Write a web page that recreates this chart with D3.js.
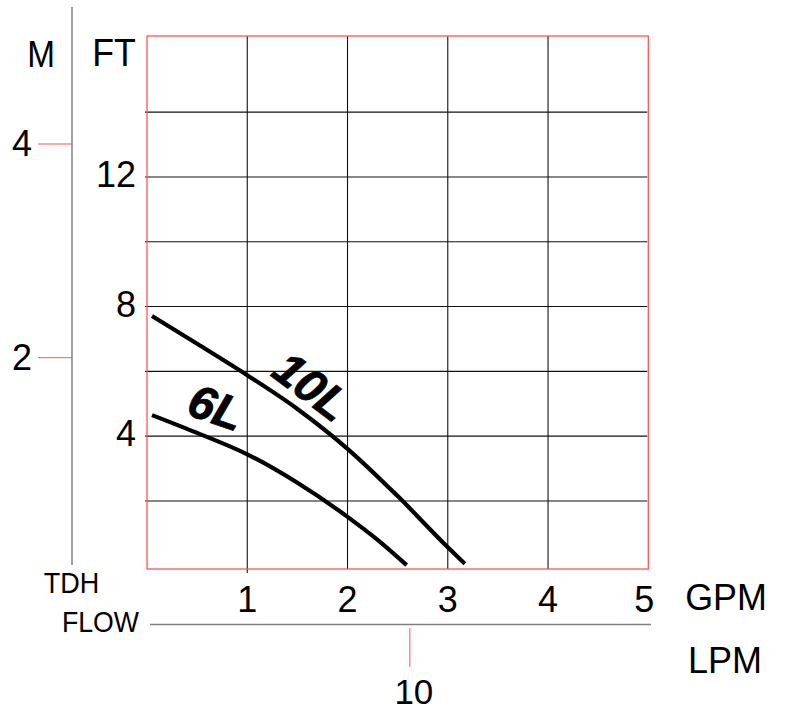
<!DOCTYPE html>
<html>
<head>
<meta charset="utf-8">
<script src="https://cdn.jsdelivr.net/npm/d3@7"></script>
<style>
  html, body { margin: 0; padding: 0; background: #fff; }
  text { font-family: "Liberation Sans", Arial, Helvetica, sans-serif; fill: #000; }
</style>
</head>
<body>
<svg id="chart" width="786" height="710"></svg>
<script>
// ---- data ----
const gpmTicks = [1, 2, 3, 4, 5];
const gpmGrid = [1, 2, 3, 4];
const ftTicks = [4, 8, 12];
const ftGrid = [2, 4, 6, 8, 10, 12, 14];
const mTicks = [2, 4];
const lpmTicks = [10];

const gpm10L = [0.05, 0.5, 1.0, 1.5, 2.0, 2.5, 3.0, 3.17];
const ft10L  = [7.71, 6.85, 5.88, 4.84, 3.61, 2.15, 0.57, 0.06];
const gpm6L  = [0.05, 0.5, 1.0, 1.5, 2.0, 2.3, 2.59];
const ft6L   = [4.65, 4.10, 3.44, 2.56, 1.51, 0.80, 0.02];

const seriesNames = ["10L", "6L"];
const labelGpm = [1.645, 0.69];
const labelFt = [5.55, 4.90];
const labelAngle = [37, 19];

// ---- scales ----
const svg = d3.select("#chart");
const x = d3.scaleLinear().domain([0, 5]).range([147, 648.3]);
const y = d3.scaleLinear().domain([-0.1, 16.35]).range([569, 36]);
const yM = d3.scaleLinear().domain([0, 4]).range([571.4, 144]);
const xL = d3.scaleLinear().domain([0, 5 * 3.78541]).range([147, 648.3]);

const red = "#ff5555";
const grey = "#808080";

// ---- grid ----
const g = svg.append("g");
g.selectAll(".hg").data(ftGrid).join("line")
  .attr("x1", x(0) - 2).attr("x2", x(5) - 1)
  .attr("y1", d => y(d)).attr("y2", d => y(d))
  .attr("stroke", "#111").attr("stroke-width", 1.1);
g.selectAll(".vg").data(gpmGrid).join("line")
  .attr("x1", d => x(d)).attr("x2", d => x(d))
  .attr("y1", y(16.35)).attr("y2", d => d === 1 ? y(-0.1) + 4 : y(-0.1))
  .attr("stroke", "#111").attr("stroke-width", 1.1);

// plot border
g.append("rect")
  .attr("x", x(0)).attr("y", y(16.35))
  .attr("width", x(5) - x(0)).attr("height", y(-0.1) - y(16.35))
  .attr("fill", "none").attr("stroke", red).attr("stroke-width", 1.3);

// ---- curves ----
const line = d3.line().x(d => x(d[0])).y(d => y(d[1])).curve(d3.curveMonotoneX);
const series = [d3.zip(gpm10L, ft10L), d3.zip(gpm6L, ft6L)];
svg.selectAll(".curve").data(series).join("path")
  .attr("d", line)
  .attr("fill", "none").attr("stroke", "#000").attr("stroke-width", 4.2)
  .attr("stroke-linecap", "butt");

svg.selectAll(".clabel").data(seriesNames).join("text")
  .attr("transform", (d, i) => `translate(${x(labelGpm[i])},${y(labelFt[i])}) rotate(${labelAngle[i]})`)
  .attr("text-anchor", "middle").attr("dy", "0.36em")
  .attr("font-size", 47).attr("font-weight", "bold").attr("font-style", "italic")
  .attr("stroke", "#000").attr("stroke-width", 0.8)
  .text(d => d);

// ---- left M axis ----
svg.append("line").attr("x1", 72).attr("x2", 72).attr("y1", 7).attr("y2", 565)
  .attr("stroke", grey).attr("stroke-width", 1.5);
svg.selectAll(".mt").data(mTicks).join("line")
  .attr("x1", 38).attr("x2", 72).attr("y1", d => yM(d)).attr("y2", d => yM(d))
  .attr("stroke", red).attr("stroke-width", 1);
svg.selectAll(".ml").data(mTicks).join("text")
  .attr("x", 32).attr("y", d => yM(d) + 12)
  .attr("text-anchor", "end").attr("font-size", 36)
  .text(d => d);

// ---- FT labels ----
svg.selectAll(".fl").data(ftTicks).join("text")
  .attr("x", 136).attr("y", d => y(d) + 10)
  .attr("text-anchor", "end").attr("font-size", 36)
  .text(d => d);

// ---- GPM labels ----
svg.selectAll(".gl").data(gpmTicks).join("text")
  .attr("x", d => x(d) - (d === 5 ? 4 : 0)).attr("y", 612)
  .attr("text-anchor", "middle").attr("font-size", 36)
  .text(d => d);

// ---- FLOW / LPM axis ----
svg.append("line").attr("x1", 150).attr("x2", 651).attr("y1", 624.5).attr("y2", 624.5)
  .attr("stroke", grey).attr("stroke-width", 1.5);
svg.selectAll(".lt").data(lpmTicks).join("line")
  .attr("x1", d => xL(d) - 2).attr("x2", d => xL(d) - 2).attr("y1", 628).attr("y2", 667)
  .attr("stroke", red).attr("stroke-width", 1);
svg.selectAll(".ll").data(lpmTicks).join("text")
  .attr("x", d => xL(d) + 2).attr("y", 704)
  .attr("text-anchor", "middle").attr("font-size", 35)
  .text(d => d);

// ---- titles ----
function label(txt, cx, by, size, sx) {
  svg.append("text")
    .attr("transform", `translate(${cx},${by}) scale(${sx},1)`)
    .attr("text-anchor", "middle").attr("font-size", size)
    .text(txt);
}
label("M", 41, 67, 37, 0.9);
label("FT", 114, 66, 38, 0.94);
label("GPM", 726, 610, 37, 0.97);
label("LPM", 725, 673, 36, 1);
label("TDH", 71.5, 593, 30, 0.9);
label("FLOW", 100.5, 632, 29, 0.92);
</script>
</body>
</html>
